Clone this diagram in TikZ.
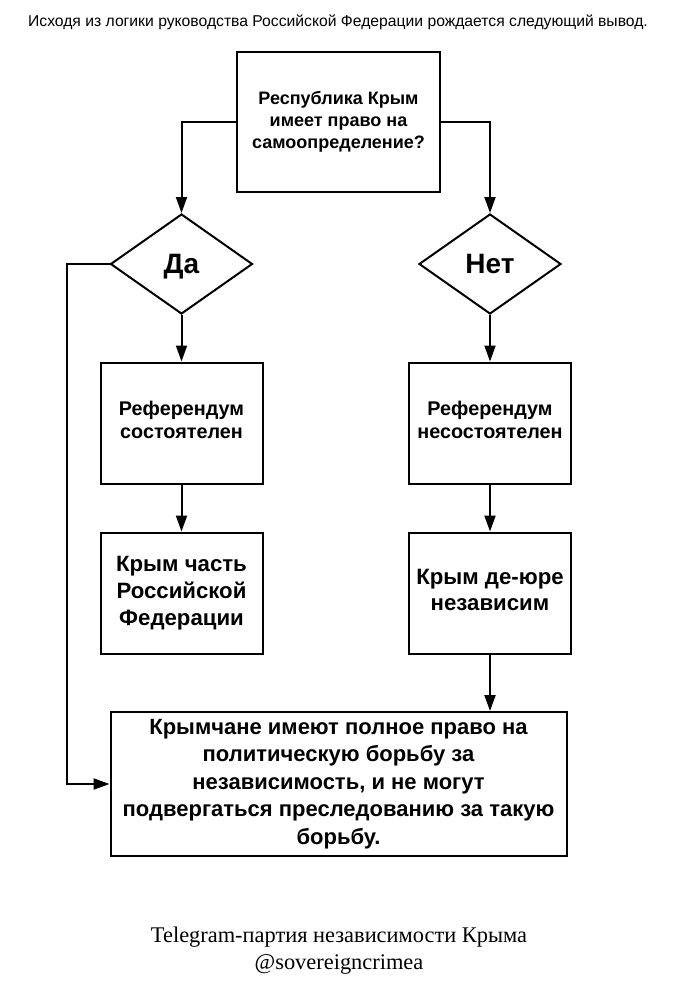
\documentclass[tikz,border=0pt]{standalone}
\usepackage{fontspec}
\setmainfont{Liberation Serif}
\newfontfamily\arialfont{Liberation Sans}
\usetikzlibrary{arrows.meta,shapes.geometric}

\tikzset{
	box/.style={draw, line width=2pt, rectangle, align=center, inner sep=0pt, font=\arialfont\bfseries},
	choice/.style={draw, line width=2pt, diamond, aspect=1.42, inner sep=0pt, text depth=0pt, minimum width=142pt, minimum height=100pt, font=\arialfont\bfseries\fontsize{28}{30}\selectfont},
	arr/.style={line width=2pt, -{Triangle[length=16pt,width=11pt]}},
}

\begin{document}
\begin{tikzpicture}[x=1pt,y=-1pt]
	\useasboundingbox[fill=white] (0,0) rectangle (686,987);
	% header and footer
	\node[font=\arialfont\fontsize{15.7}{18}\selectfont] (head) at (338,22) {Исходя из логики руководства Российской Федерации рождается следующий вывод.};
	\node[align=center, font=\fontsize{22.4}{27}\selectfont] (foot) at (339,951) {Telegram-партия независимости Крыма\\@sovereigncrimea};
	% question
	\node[box, minimum width=203pt, minimum height=140pt, font=\arialfont\bfseries\fontsize{18}{22}\selectfont] (q) at (338.5,122) {Республика Крым\\имеет право на\\самоопределение?};
	\node[choice] (da) at (181.5,264) {Да};
	\node[choice] (net) at (490,264) {Нет};
	% left branch
	\node[box, minimum width=162pt, minimum height=121pt, font=\arialfont\bfseries\fontsize{19.8}{23.3}\selectfont, text depth=6pt] (refyes) at (181.5,423) {Референдум\\состоятелен};
	\node[box, minimum width=162pt, minimum height=121pt, font=\arialfont\bfseries\fontsize{22.2}{26.7}\selectfont] (crimrf) at (181.5,593) {Крым часть\\Российской\\Федерации};
	% right branch
	\node[box, minimum width=162pt, minimum height=121pt, font=\arialfont\bfseries\fontsize{19.8}{23.3}\selectfont, text depth=6pt] (refno) at (490,423) {Референдум\\несостоятелен};
	\node[box, minimum width=162pt, minimum height=121pt, font=\arialfont\bfseries\fontsize{22.2}{26}\selectfont, text depth=6pt] (dejure) at (490,593) {Крым де-юре\\независим};
	% conclusion
	\node[box, minimum width=456pt, minimum height=144pt, font=\arialfont\bfseries\fontsize{22}{27.5}\selectfont] (rights) at (338.5,784) {Крымчане имеют полное право на\\политическую борьбу за\\независимость, и не могут\\подвергаться преследованию за такую\\борьбу.};

	\draw[arr] (q.west) -| (da.north);
	\draw[arr] (q.east) -| (net.north);
	\draw[arr] (da.south) -- (refyes.north);
	\draw[arr] (refyes.south) -- (crimrf.north);
	\draw[arr] (net.south) -- (refno.north);
	\draw[arr] (refno.south) -- (dejure.north);
	\draw[arr] (dejure.south) -- (dejure.south |- rights.north);
	\draw[arr] (da.west) -- ++(-43,0) |- (rights.west);
\end{tikzpicture}
\end{document}
